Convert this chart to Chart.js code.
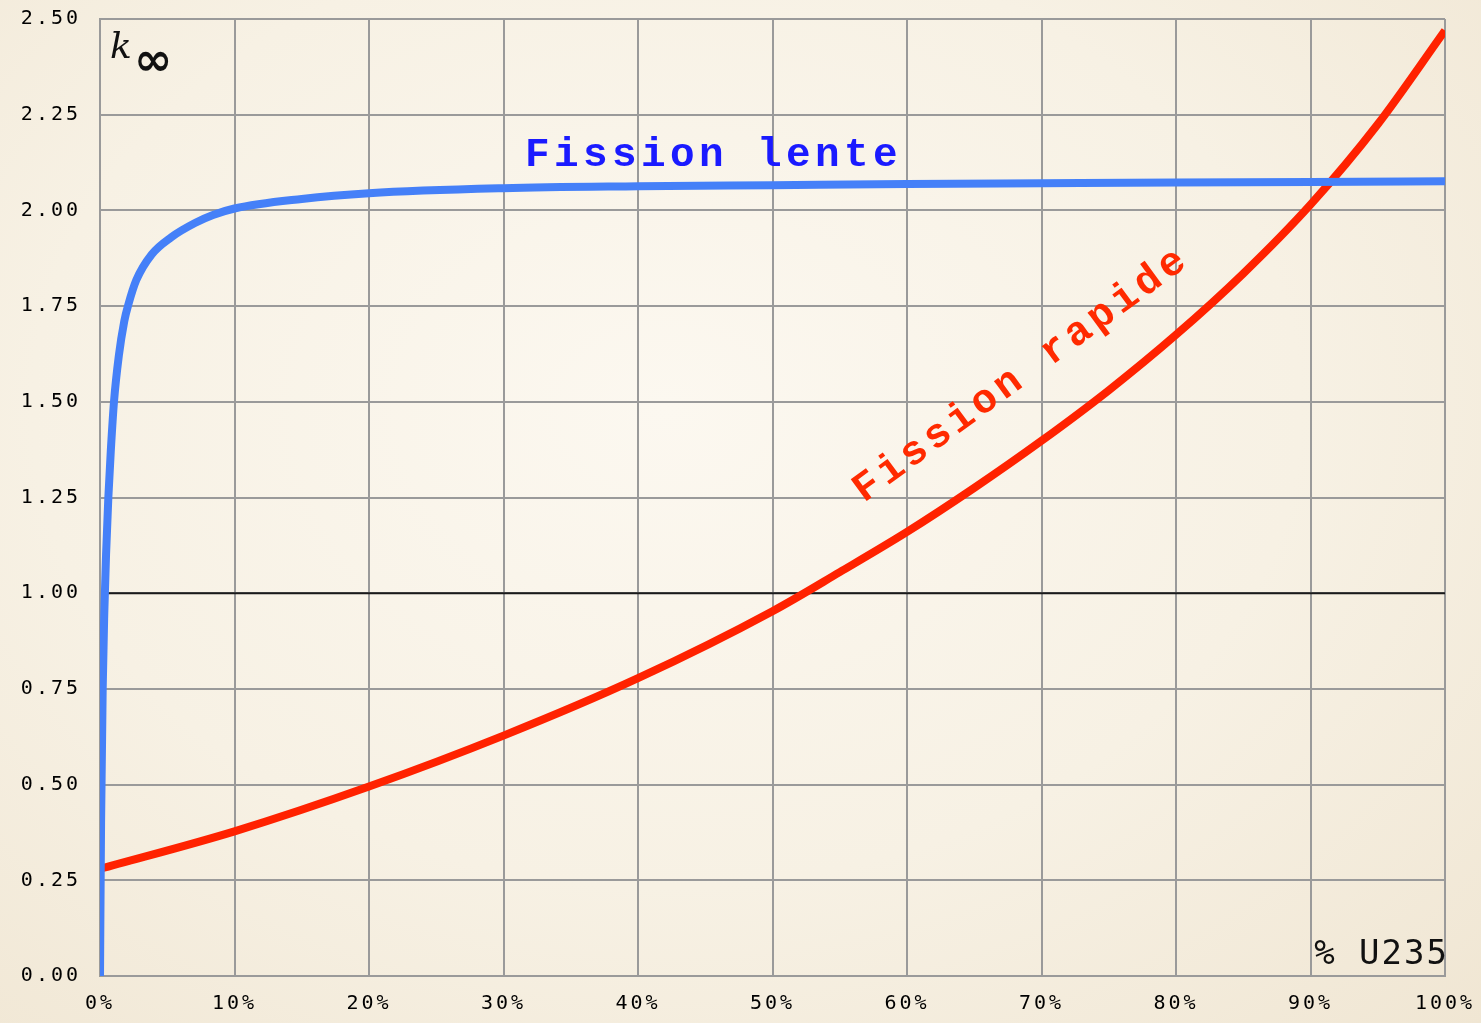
<!DOCTYPE html>
<html>
<head>
<meta charset="utf-8">
<script src="https://cdn.jsdelivr.net/npm/chart.js@4/dist/chart.umd.min.js"></script>
<style>
  html, body { margin: 0; padding: 0; }
  body {
    width: 1481px; height: 1023px; overflow: hidden;
    background: radial-gradient(ellipse at 45% 40%, #fcf8f0 0%, #f7f1e4 55%, #f0e6d3 100%);
  }
  #wrap { position: relative; width: 1481px; height: 1023px; }
</style>
</head>
<body>
<div id="wrap"><canvas id="myChart" width="1481" height="1023"></canvas></div>
<script>
// % U235 vs k-infini
const lenteX = [0, 0.08, 0.2, 0.32, 0.45, 0.62, 0.8, 1.04, 1.4, 1.8, 2.1, 2.7, 3.84, 5.3, 7.06, 8.4, 10, 15, 20, 30, 40, 50, 60, 70, 80, 90, 100];
const lenteY = [0, 0.4, 0.75, 0.95, 1.1, 1.25, 1.37, 1.5, 1.62, 1.71, 1.753, 1.818, 1.885, 1.93, 1.967, 1.988, 2.005, 2.03, 2.045, 2.058, 2.063, 2.066, 2.069, 2.071, 2.073, 2.074, 2.076];

const rapideX = [0, 10, 20, 30, 40, 50, 55, 60, 65, 70, 75, 80, 85, 90, 95, 100];
const rapideY = [0.28, 0.378, 0.495, 0.628, 0.778, 0.953, 1.055, 1.16, 1.275, 1.398, 1.53, 1.675, 1.835, 2.015, 2.225, 2.47];

const critiqueX = [0.6, 100];
const critiqueY = [1.0, 1.0];

const xTicks = [0, 10, 20, 30, 40, 50, 60, 70, 80, 90, 100];
const yTicks = [0, 0.25, 0.5, 0.75, 1.0, 1.25, 1.5, 1.75, 2.0, 2.25, 2.5];

function pts(xs, ys) {
	return xs.map((x, i) => ({ x: x, y: ys[i] }));
}

const annotations = {
	id: 'annotations',
	beforeDraw(chart) {
		chart.ctx.letterSpacing = '3px';
	},
	afterDraw(chart) {
		const ctx = chart.ctx;
		ctx.save();
		ctx.letterSpacing = '0px';
		// k infini
		ctx.fillStyle = '#111';
		ctx.font = 'italic 36px "DejaVu Serif", serif';
		ctx.textBaseline = 'alphabetic';
		ctx.fillText('k', 110, 58);
		ctx.font = 'bold 46px "DejaVu Sans", sans-serif';
		ctx.fillText('\u221E', 134, 75);

		// Fission lente
		ctx.letterSpacing = '4.4px';
		ctx.fillStyle = '#1a1aff';
		ctx.font = 'bold 41px "Liberation Mono", monospace';
		ctx.fillText('Fission lente', 525, 166);

		// Fission rapide (rotated)
		ctx.save();
		ctx.translate(864, 503);
		ctx.rotate(-36.2 * Math.PI / 180);
		ctx.fillStyle = '#ff2a00';
		ctx.fillText('Fission rapide', 0, 0);
		ctx.restore();

		// % U235
		ctx.letterSpacing = '2px';
		ctx.fillStyle = '#111';
		ctx.font = '34px "DejaVu Sans Mono", monospace';
		ctx.textAlign = 'right';
		ctx.fillText('% U235', 1449, 964);
		ctx.restore();
		ctx.letterSpacing = '0px';
	}
};

const ctx = document.getElementById('myChart').getContext('2d');
const myChart = new Chart(ctx, {
	type: 'line',
	data: {
		datasets: [
			{
				label: 'Fission lente',
				data: pts(lenteX, lenteY),
				borderColor: '#4580f8',
				borderWidth: 8,
				pointRadius: 0,
				cubicInterpolationMode: 'monotone',
				order: 1
			},
			{
				label: 'Fission rapide',
				data: pts(rapideX, rapideY),
				borderColor: '#ff2200',
				borderWidth: 8,
				pointRadius: 0,
				cubicInterpolationMode: 'monotone',
				order: 2
			},
			{
				label: 'k = 1',
				data: pts(critiqueX, critiqueY),
				borderColor: '#1a1a1a',
				borderWidth: 2,
				pointRadius: 0,
				order: 3
			}
		]
	},
	options: {
		responsive: false,
		animation: false,
		layout: { padding: { top: 19, right: 36, left: 0, bottom: 0 } },
		plugins: {
			legend: { display: false },
			tooltip: { enabled: false }
		},
		scales: {
			x: {
				type: 'linear',
				min: 0,
				max: 100,
				afterBuildTicks: (s) => { s.ticks = xTicks.map(v => ({ value: v })); },
				afterFit: (s) => { s.height = 47; s.paddingLeft = 0; s.paddingRight = 0; },
				grid: { color: '#9a9a9a', lineWidth: 2, drawTicks: false },
				border: { color: '#9a9a9a', width: 2 },
				ticks: {
					padding: 16,
					color: '#000',
					font: { family: '"DejaVu Sans Mono", monospace', size: 20 },
					callback: v => v + '%'
				}
			},
			y: {
				min: 0,
				max: 2.5,
				afterBuildTicks: (s) => { s.ticks = yTicks.map(v => ({ value: v })); },
				afterFit: (s) => { s.width = 100; s.paddingTop = 0; s.paddingBottom = 0; },
				grid: { color: '#9a9a9a', lineWidth: 2, drawTicks: false },
				border: { color: '#9a9a9a', width: 2 },
				ticks: {
					padding: 19,
					color: '#000',
					font: { family: '"DejaVu Sans Mono", monospace', size: 20 },
					callback: v => Number(v).toFixed(2)
				}
			}
		}
	},
	plugins: [annotations]
});
</script>
</body>
</html>
